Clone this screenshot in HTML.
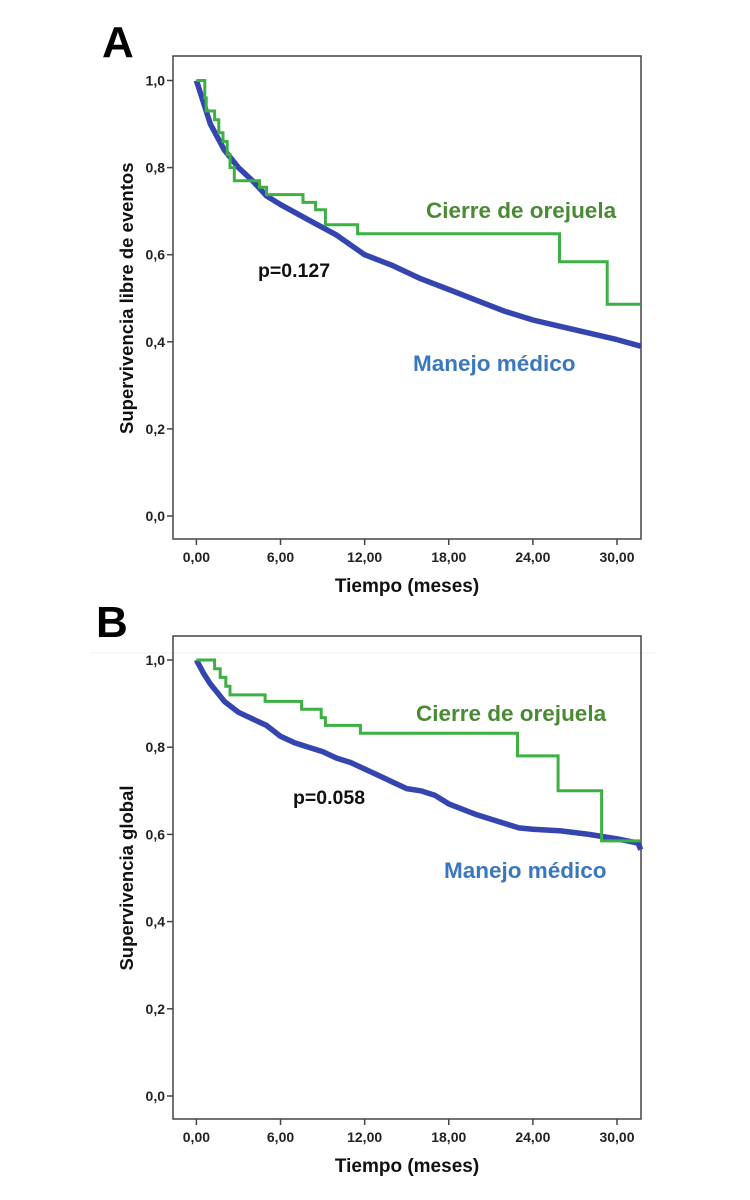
<!DOCTYPE html>
<html><head><meta charset="utf-8"><style>
body{margin:0;background:#fff}
svg{display:block;font-family:"Liberation Sans",sans-serif}
</style></head><body>
<svg id="chart" width="750" height="1200" viewBox="0 0 750 1200">
<text x="102" y="57" font-size="44" font-weight="bold">A</text>
<text x="96" y="637" font-size="44" font-weight="bold">B</text>
<line x1="90" y1="653" x2="655" y2="653" stroke="#f0f0f0"/>
</svg>
<script>
const xTicks=[0,6,12,18,24,30];
const xTickLabels=["0,00","6,00","12,00","18,00","24,00","30,00"];
const yTicks=[0,0.2,0.4,0.6,0.8,1.0];
const yTickLabels=["0,0","0,2","0,4","0,6","0,8","1,0"];
const aGreenT=[0,0.6,0.7,1.3,1.6,1.9,2.2,2.4,2.7,4.5,5.0,7.6,8.5,9.2,11.5,25.9,29.3,31.7];
const aGreenS=[1.0,0.96,0.93,0.91,0.88,0.86,0.83,0.80,0.77,0.755,0.738,0.72,0.703,0.669,0.648,0.584,0.486,0.486];
const aBlueT=[0,0.5,1,2,3,4,5,6,8,10,12,14,16,18,20,22,24,26,28,30,31.7];
const aBlueS=[1,0.95,0.9,0.84,0.8,0.77,0.735,0.715,0.68,0.645,0.6,0.575,0.545,0.52,0.495,0.47,0.45,0.435,0.42,0.405,0.39];
const bGreenT=[0,1.3,1.7,2.1,2.4,4.9,7.5,8.9,9.2,11.7,22.9,25.8,28.9,31.7];
const bGreenS=[1.0,0.98,0.96,0.94,0.92,0.905,0.887,0.868,0.85,0.832,0.78,0.70,0.585,0.585];
const bBlueT=[0,0.5,1,1.5,2,3,4,5,6,7,8,9,10,11,12,13,14,15,16,17,18,20,22,23,24,26,28,29,30,31.5,31.7];
const bBlueS=[1,0.97,0.945,0.925,0.905,0.88,0.865,0.85,0.825,0.81,0.8,0.79,0.775,0.765,0.75,0.735,0.72,0.705,0.7,0.69,0.67,0.645,0.625,0.615,0.612,0.608,0.6,0.595,0.59,0.58,0.565];
const svg=document.getElementById('chart');
const NS='http://www.w3.org/2000/svg';
function mk(tag,attrs,parent){const e=document.createElementNS(NS,tag);for(const k in attrs)e.setAttribute(k,attrs[k]);(parent||svg).appendChild(e);return e;}
function panel(id,top,y1,y0,gT,gS,bT,bS,yTitle,ann){
  const L=173,R=641,B=top+483;
  const x=t=>196.4+t*14.02;
  const y=s=>y0+(y1-y0)*s;
  const g=mk('g',{});
  
  
  const fr=mk('rect',{x:L,y:top,width:R-L,height:B-top,fill:'none',stroke:'#444','stroke-width':1.5},g);
  
  
  yTicks.forEach((v,i)=>{
    const tk=mk('line',{x1:L-6,x2:L,y1:y(v),y2:y(v),stroke:'#444','stroke-width':1.5},g);
    
    
    const t=mk('text',{x:L-8,y:y(v)+5,'text-anchor':'end','font-size':14,'font-weight':'bold',fill:'#222'},g);
    t.textContent=yTickLabels[i];
    
    
  });
  xTicks.forEach((v,i)=>{
    const tk=mk('line',{x1:x(v),x2:x(v),y1:B,y2:B+6,stroke:'#444','stroke-width':1.5},g);
    
    
    const t=mk('text',{x:x(v),y:B+23,'text-anchor':'middle','font-size':14,'font-weight':'bold',fill:'#222'},g);
    t.textContent=xTickLabels[i];
    
    
  });
  const xt=mk('text',{x:407,y:B+53,'text-anchor':'middle','font-size':19,'font-weight':'bold',fill:'#111'},g);
  xt.textContent='Tiempo (meses)';
  
  
  const cy=(y(1)+y(0))/2;
  const yt=mk('text',{x:0,y:0,'text-anchor':'middle','font-size':18.5,'font-weight':'bold',fill:'#111',transform:`translate(133,${cy}) rotate(-90)`},g);
  yt.textContent=yTitle;
  
  
  let d='';
  bT.forEach((t,i)=>{d+=(i?'L':'M')+x(t).toFixed(1)+','+y(bS[i]).toFixed(1);});
  const bl=mk('path',{d:d,fill:'none',stroke:'#3545b0','stroke-width':5.5,'stroke-linejoin':'round'},g);
  
  
  let d2='M'+x(gT[0])+','+y(gS[0]);
  for(let i=1;i<gT.length;i++){d2+='H'+x(gT[i]).toFixed(1)+'V'+y(gS[i]).toFixed(1);}
  const gl=mk('path',{d:d2,fill:'none',stroke:'#3cb043','stroke-width':3},g);
  
  
  const c=mk('text',{x:ann.cx,y:ann.cy,'font-size':22.5,'font-weight':'bold',fill:'#4a8a35'},g);
  c.textContent='Cierre de orejuela';
  
  
  const m=mk('text',{x:ann.mx,y:ann.my,'font-size':22.5,'font-weight':'bold',fill:'#3a78bd'},g);
  m.textContent='Manejo médico';
  
  
  const p=mk('text',{x:ann.px,y:ann.py,'font-size':19.5,'font-weight':'bold',fill:'#111'},g);
  p.textContent=ann.p;
  
  
}
panel('a',56,80.5,516,aGreenT,aGreenS,aBlueT,aBlueS,'Supervivencia libre de eventos',{cx:426,cy:218,mx:413,my:371,px:258,py:277,p:'p=0.127'});
panel('b',636,660,1096,bGreenT,bGreenS,bBlueT,bBlueS,'Supervivencia global',{cx:416,cy:721,mx:444,my:878,px:293,py:804,p:'p=0.058'});
</script>
</body></html>
